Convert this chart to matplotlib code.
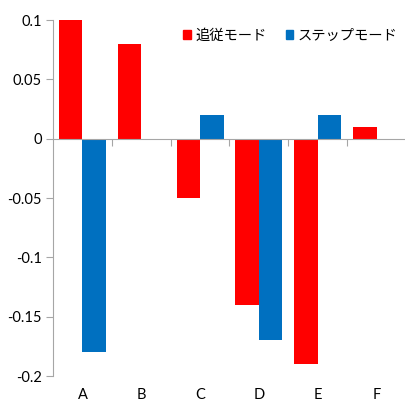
import matplotlib
matplotlib.use("Agg")
import matplotlib.pyplot as plt
import numpy as np
from matplotlib.ticker import FixedLocator, FuncFormatter
from matplotlib.patches import Patch

categories = ["A", "B", "C", "D", "E", "F"]
tracking = [0.1, 0.08, -0.05, -0.14, -0.19, 0.01]
step = [-0.18, 0.0, 0.02, -0.17, 0.02, 0.0]
series_names = ["追従モード", "ステップモード"]
y_ticks = [-0.2, -0.15, -0.1, -0.05, 0, 0.05, 0.1]

RED = "#FF0000"
BLUE = "#0070C0"
GRAY = "#A6A6A6"

plt.rcParams["font.family"] = ["Lato", "Noto Sans CJK JP", "DejaVu Sans"]

fig = plt.figure(figsize=(4.06, 4.01), dpi=100)
ax = fig.add_axes([53 / 406, (401 - 376) / 401, 353 / 406, (376 - 20) / 401])

x = np.arange(len(categories))
w = 0.4
ax.bar(x - w / 2, tracking, w, color=RED, zorder=3)
ax.bar(x + w / 2, step, w, color=BLUE, zorder=3)

ax.set_xlim(-0.5, len(categories) - 0.5)
ax.set_ylim(-0.2, 0.1)

for s in ["top", "right"]:
    ax.spines[s].set_visible(False)
ax.spines["left"].set_color(GRAY)
ax.spines["bottom"].set_color(GRAY)
ax.spines["bottom"].set_position(("data", 0))
ax.spines["bottom"].set_zorder(4)

ax.xaxis.set_major_locator(FixedLocator(list(x[:-1] + 0.5)))
ax.tick_params(axis="x", which="major", length=5, color=GRAY, labelbottom=False)

ax.yaxis.set_major_locator(FixedLocator(y_ticks))
ax.yaxis.set_major_formatter(FuncFormatter(lambda v, p: f"{round(v, 4):g}"))
ax.tick_params(axis="y", length=5, color=GRAY, labelsize=10.5, labelcolor="#000000", pad=3)

sec = ax.secondary_xaxis("bottom")
sec.set_xticks(x)
sec.set_xticklabels(categories)
sec.tick_params(length=0, labelsize=10.5, pad=8.5)
sec.spines["bottom"].set_visible(False)

handles = [Patch(color=RED), Patch(color=BLUE)]
ax.legend(handles, series_names, loc="upper right", bbox_to_anchor=(1.0, 1.0),
          ncol=2, frameon=False, handlelength=0.55, handleheight=0.55,
          handletextpad=0.3, columnspacing=1.3, borderaxespad=0.2,
          prop={"family": ["Noto Sans CJK JP", "DejaVu Sans"], "size": 10.3})

fig.savefig("out.png", dpi=100)
